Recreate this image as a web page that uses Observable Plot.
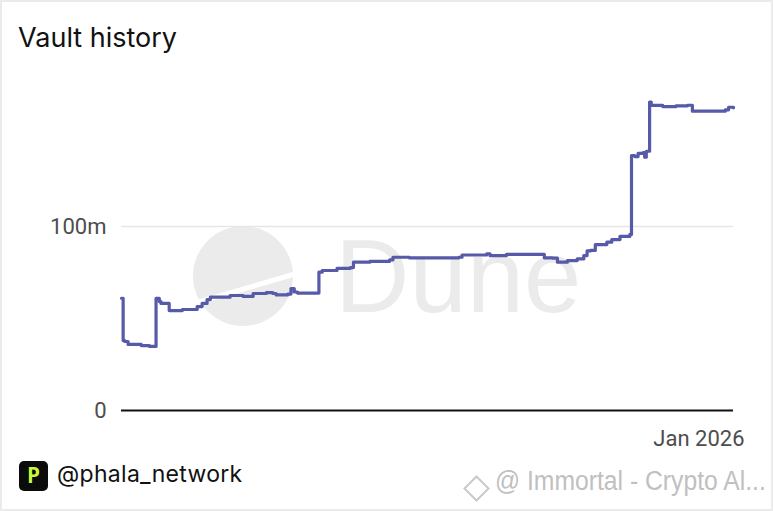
<!DOCTYPE html>
<html>
<head>
<meta charset="utf-8">
<script src="https://cdn.jsdelivr.net/npm/d3@7"></script>
<script src="https://cdn.jsdelivr.net/npm/@observablehq/plot@0.6"></script>
<style>
  html, body { margin: 0; padding: 0; background: #fff; }
  #card { position: relative; width: 773px; height: 511px; overflow: hidden; background: #fff; box-shadow: inset 0 0 0 2px #ebebeb; }
  #wm { position: absolute; left: 0; top: 0; }
  #title { position: absolute; left: 18px; top: 24px; font-family: Inter, "Noto Sans", sans-serif; font-size: 27px; line-height: 1; color: #111; white-space: nowrap; }
  #chart { position: absolute; left: 0; top: 70px; }
  #logo { position: absolute; left: 19px; top: 461px; width: 29px; height: 30px; background: #0b0b0b; border-radius: 5px; color: #c9f73a; font-family: "DejaVu Sans Mono", monospace; font-weight: bold; font-size: 21px; line-height: 30px; text-align: center; }
  #handle { position: absolute; left: 57px; top: 463px; font-family: Inter, "Noto Sans", sans-serif; font-size: 23px; line-height: 1; color: #111; white-space: nowrap; letter-spacing: 0.3px; }
  #credit { position: absolute; left: 495px; top: 468px; font-family: "Liberation Sans", Arial, sans-serif; font-size: 27px; line-height: 1; color: #c0c0c0; white-space: nowrap; transform: scaleX(0.915); transform-origin: 0 50%; }
  #credit-icon { position: absolute; left: 467px; top: 479px; width: 15px; height: 15px; border: 2px solid #cacaca; transform: rotate(45deg); }
</style>
</head>
<body>
<div id="card">
  <svg id="wm" width="773" height="511">
    <circle cx="243" cy="276" r="50" fill="#ebebeb"></circle>
    <line x1="185" y1="306" x2="305" y2="271" stroke="#fff" stroke-width="5"></line>
    <text x="335" y="312" font-family="Liberation Sans, Arial, sans-serif" font-size="103" fill="#ebebeb">Dune</text>
  </svg>
  <div id="title">Vault history</div>
  <div id="chart"></div>
  <div id="logo">P</div>
  <div id="handle">@phala_network</div>
  <div id="credit-icon"></div>
  <div id="credit">@ Immortal - Crypto Al...</div>
</div>
<script>
// Vault balance (millions) by date
const dates = [
  "2025-01-15","2025-01-16","2025-01-17","2025-01-19","2025-01-27","2025-02-01",
  "2025-02-05","2025-02-07","2025-02-08","2025-02-13","2025-02-21","2025-03-02",
  "2025-03-05","2025-03-08","2025-03-10","2025-03-22","2025-03-30","2025-04-05",
  "2025-04-13","2025-04-17","2025-04-19","2025-04-26","2025-04-28","2025-04-30",
  "2025-05-02","2025-05-15","2025-05-17","2025-05-26","2025-06-03","2025-06-05",
  "2025-06-15","2025-06-27","2025-06-29","2025-07-09","2025-07-21","2025-08-08",
  "2025-08-10","2025-08-25","2025-08-27","2025-09-06","2025-09-29","2025-10-04",
  "2025-10-07","2025-10-13","2025-10-19","2025-10-23","2025-10-25","2025-10-27",
  "2025-10-30","2025-11-06","2025-11-09","2025-11-14","2025-11-20","2025-11-21",
  "2025-11-23","2025-11-25","2025-11-28","2025-11-29","2025-11-30","2025-12-02",
  "2025-12-03","2025-12-10","2025-12-18","2025-12-25","2025-12-28","2026-01-09",
  "2026-01-17","2026-01-19","2026-01-22"
];
const values = [
  61.0, 38.0, 37.5, 35.9, 35.3, 34.8,
  60.9, 59.2, 58.2, 54.3, 54.9, 56.5,
  58.2, 60.3, 61.6, 62.5, 62.0, 63.6,
  64.1, 63.6, 62.8, 63.3, 66.3, 64.4,
  63.8, 75.2, 76.1, 77.2, 77.7, 80.6,
  81.1, 81.9, 83.3, 83.0, 82.9, 83.3,
  84.5, 85.2, 84.2, 84.8, 83.0, 82.8,
  80.6, 81.5, 82.4, 84.2, 86.7, 87.0,
  90.2, 91.5, 92.9, 94.6, 95.7, 138.6,
  138.0, 139.7, 140.1, 137.7, 140.9, 167.6,
  165.8, 165.2, 165.6, 165.9, 162.7, 162.7,
  163.4, 164.8, 164.5
];
const yTicks = [0, 100];
const yTickLabels = ["0", "100m"];
const xTicks = ["2026-01-01"];
const xTickLabels = ["Jan 2026"];
const xDomain = ["2025-01-15", "2026-01-22"];
const yDomain = [0, 180];

const data = dates.map((d, i) => ({date: new Date(d), value: values[i]}));

const chart = Plot.plot({
  width: 773,
  height: 390,
  marginLeft: 121,
  marginRight: 40,
  marginTop: 8.8,
  marginBottom: 50,
  style: {background: "transparent", fontFamily: "Roboto, 'Liberation Sans', sans-serif", fontSize: "22px", color: "#4d4d4d", overflow: "visible"},
  x: {type: "utc", domain: xDomain.map(d => new Date(d))},
  y: {domain: yDomain},
  marks: [
    Plot.ruleY([yTicks[1]], {stroke: "#e6e6e6", strokeWidth: 1.5}),
    Plot.ruleY([yTicks[0]], {stroke: "#111", strokeWidth: 2}),
    Plot.line(data, {x: "date", y: "value", curve: "step-after", stroke: "#575aa8", strokeWidth: 3.2, strokeLinejoin: "round"}),
    Plot.axisY({ticks: yTicks, tickFormat: (d) => yTickLabels[yTicks.indexOf(d)], tickSize: 0, tickPadding: 15, fontSize: 22, label: null}),
    Plot.axisX({ticks: xTicks.map(d => new Date(d)), tickFormat: (d, i) => xTickLabels[i], tickSize: 0, tickPadding: 20, fontSize: 22, label: null})
  ]
});
document.getElementById("chart").appendChild(chart);
</script>
</body>
</html>
